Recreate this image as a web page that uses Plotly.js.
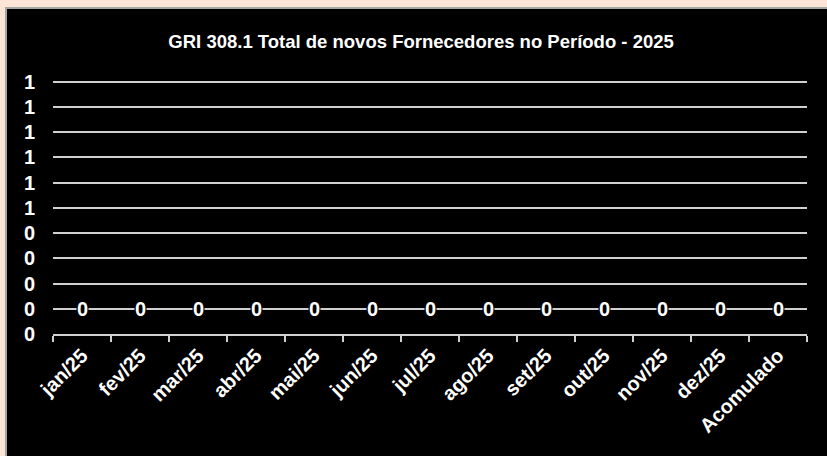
<!DOCTYPE html>
<html><head><meta charset="utf-8">
<script src="https://cdn.plot.ly/plotly-3.0.1.min.js"></script>
<style>
html,body{margin:0;padding:0;background:#fce4d6;width:827px;height:456px;overflow:hidden;}
#wrap{position:absolute;left:5px;top:7px;width:822px;height:449px;border-left:2px solid #a6a6a6;border-top:2px solid #a6a6a6;background:#000;}
#chart{width:820px;height:447px;}
</style></head><body>
<div id="wrap"><div id="chart"></div></div>
<script>
const categories = ['jan/25','fev/25','mar/25','abr/25','mai/25','jun/25','jul/25','ago/25','set/25','out/25','nov/25','dez/25','Acomulado'];
const values = [0,0,0,0,0,0,0,0,0,0,0,0,0];
const yTickVals = [0,0.1,0.2,0.3,0.4,0.5,0.6,0.7,0.8,0.9,1];
const yTickText = ['0','0','0','0','0','1','1','1','1','1','1'];
const titleText = 'GRI 308.1 Total de novos Fornecedores no Período - 2025';

const font = 'Arial, Liberation Sans, sans-serif';
const annotations = categories.map((c,i)=>({
  x:c, y:values[i], xref:'x', yref:'y', text:'<b>'+String(values[i])+'</b>', showarrow:false,
  yshift:25, font:{family:font,size:20,color:'#fff',weight:'bold'}, bgcolor:'#000', borderpad:0
}));
Plotly.newPlot('chart',[{
  type:'bar', x:categories, y:values, marker:{color:'#4472c4'}, hoverinfo:'none'
}],{
  width:820,height:447,
  paper_bgcolor:'#000',plot_bgcolor:'#000',
  margin:{l:46,r:20,t:70,b:122},
  showlegend:false,
  title:{text:'<b>'+titleText+'</b>',x:0.505,xanchor:'center',y:0.928,yanchor:'middle',font:{family:font,size:18.5,color:'#fff',weight:'bold'}},
  xaxis:{type:'category',tickson:'boundaries',ticks:'outside',ticklen:6,tickcolor:'#d0d0d0',tickwidth:2,
    showline:true,linecolor:'#d0d0d0',linewidth:2,showgrid:false,tickangle:-45,
    tickfont:{family:font,size:20,color:'#fff',weight:'bold'},fixedrange:true},
  yaxis:{range:[0,1.01],tickvals:yTickVals,ticktext:yTickText,showgrid:true,gridcolor:'#d0d0d0',gridwidth:2,
    zeroline:false,showline:false,ticks:'',ticklabelstandoff:17,
    tickfont:{family:font,size:20,color:'#fff',weight:'bold'},fixedrange:true},
  annotations:annotations
},{displayModeBar:false,staticPlot:true});
</script></body></html>
